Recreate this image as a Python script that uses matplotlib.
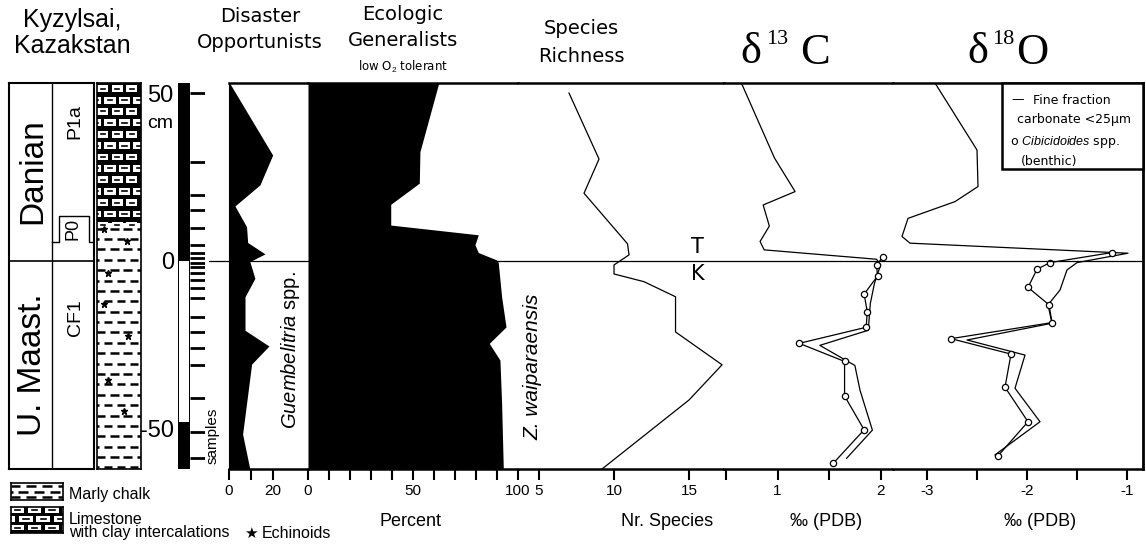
import matplotlib
matplotlib.use('agg')
import numpy as np
import matplotlib.pyplot as plt
from matplotlib.patches import Rectangle

W, H = 1146, 550
TOP_PX, BOT_PX = 83, 469

plt.rcParams['font.family'] = ['Liberation Sans', 'DejaVu Sans']
plt.rcParams['mathtext.fontset'] = 'custom'
plt.rcParams['mathtext.rm'] = 'Liberation Sans'
plt.rcParams['mathtext.it'] = 'Liberation Sans:italic'

# depth in cm relative to the K/T boundary
depth_top, depth_bottom = 53.1, -62.1

sample_depth = [50.1, 29.6, 19.7, 15.2, 9.9, 4.8, 2.4, 0.9, -0.6, -1.8, -3.6,
                -5.7, -8.1, -11.0, -16.7, -21.2, -26.0, -31.0, -40.9, -51.0, -58.8]

# Guembelitria spp. (%)
disaster_depth = [53.1, 52.5, 31.6, 22.7, 16.4, 10.2, 5.5, 2.1, -0.2, -5.2,
                  -10.7, -20.7, -25.4, -30.8, -51.7, -62.1]
disaster_pct = [0.5, 0.8, 19.9, 14.1, 2.7, 8.0, 8.5, 16.4, 9.5, 11.8,
                7.3, 7.3, 18.2, 10.3, 6.2, 9.5]

# ecologic generalists (%)
general_depth = [53.1, 52.5, 32.6, 23.2, 16.9, 10.7, 7.8, 4.8, 2.5, 0.3, -0.5,
                 -10.7, -19.7, -24.6, -29.6, -42.5, -62.1]
general_pct = [62.3, 62.0, 53.3, 53.0, 39.4, 39.4, 81.1, 79.5, 81.1, 89.8, 90.6,
               92.2, 94.3, 86.3, 91.4, 92.2, 93.0]

# species richness
species_depth = [50.1, 30.4, 20.2, 5.1, 1.8, -1.2, -3.9, -6.2, -10.7, -21.2,
                 -31.0, -41.5, -62.1]
species_n = [7.0, 9.0, 8.0, 10.9, 11.0, 10.0, 10.0, 12.0, 14.1, 14.1,
             17.2, 15.0, 9.2]

# stable isotopes, fine fraction carbonate
d13c_fine_depth = [53.0, 30.7, 20.7, 16.7, 10.4, 5.8, 3.3, 0.5, -1.2, -6.7,
                   -12.7, -20.7, -25.2, -31.2, -38.6, -50.5, -58.9]
d13c_fine = [0.65, 0.97, 1.17, 0.86, 0.92, 0.83, 0.87, 1.96, 2.00, 1.94,
             1.90, 1.88, 1.41, 1.75, 1.80, 1.92, 1.67]
d18o_fine_depth = [53.1, 33.1, 22.2, 17.7, 12.7, 7.3, 5.3, 2.3, -0.5, -2.7,
                   -8.7, -13.1, -18.6, -23.6, -28.1, -38.0, -48.0, -57.9]
d18o_fine = [-2.92, -2.50, -2.49, -2.72, -3.19, -3.25, -3.17, -0.99, -1.50, -1.60,
             -1.67, -1.79, -1.75, -2.60, -2.02, -2.12, -1.87, -2.32]

# stable isotopes, Cibicidoides spp.
cib_depth = [1.1, -1.2, -4.5, -9.9, -15.1, -19.8, -24.6, -30.0, -40.3, -50.4, -60.4]
d13c_cib = [2.02, 1.96, 1.97, 1.84, 1.87, 1.86, 1.21, 1.65, 1.65, 1.84, 1.54]
d18o_cib_depth = [2.5, -0.5, -2.5, -7.9, -13.1, -18.4, -23.2, -27.8, -37.7, -48.0, -58.2]
d18o_cib = [-1.15, -1.77, -1.90, -1.99, -1.78, -1.75, -2.76, -2.16, -2.22, -1.99, -2.29]

# stratigraphy
limestone_base = 11.2
p0_top, p0_base = 13.4, 5.7
scale_white = (0.0, -48.0)
echinoid_depth = [9.4, 6.0, -3.6, -13.0, -22.4, -35.4, -44.8]
echinoid_pos = [0.17, 0.68, 0.25, 0.17, 0.70, 0.25, 0.61]

fig = plt.figure(figsize=(W / 100, H / 100), dpi=100)


def px_axes(x0, x1, y0=TOP_PX, y1=BOT_PX):
    return fig.add_axes([x0 / W, 1 - y1 / H, (x1 - x0) / W, (y1 - y0) / H])


def ftext(x, y, s, **kw):
    kw.setdefault('ha', 'center')
    kw.setdefault('va', 'center')
    fig.text(x / W, 1 - y / H, s, **kw)


def panel(x0, x1, xlim, ticks, labels):
    ax = px_axes(x0, x1)
    ax.set_xlim(*xlim)
    ax.set_ylim(depth_bottom, depth_top)
    ax.set_yticks([])
    ax.set_xticks(ticks)
    ax.set_xticklabels(labels)
    ax.tick_params(axis='x', direction='out', length=8, width=1.5, pad=3,
                   labelsize=11)
    ax.spines['left'].set_visible(False)
    ax.spines['right'].set_visible(False)
    ax.spines['top'].set_linewidth(1.8)
    ax.spines['bottom'].set_linewidth(1.8)
    return ax


def limestone(ax, y_top, y_bot, row_h):
    ax.add_patch(Rectangle((0, y_bot), 1, y_top - y_bot, color='black', lw=0))
    for i, yt in enumerate(np.arange(y_top, y_bot, -row_h)):
        off = 0.0 if i % 2 == 0 else 0.165
        bh = row_h * 0.6
        yb = yt - row_h * 0.8
        for x in np.arange(-0.33 + off, 1.0, 0.33):
            ax.add_patch(Rectangle((x, yb), 0.26, bh, color='white', lw=0))
            ax.plot([x + 0.08, x + 0.18], [yb + bh / 2] * 2, color='black', lw=1.2)


def marly(ax, y_top, y_bot, row_h):
    for i, y in enumerate(np.arange(y_top - row_h / 2, y_bot, -row_h)):
        off = 0.0 if i % 2 == 0 else 0.15
        for x in np.arange(-0.3 + off, 1.0, 0.3):
            ax.plot([x, x + 0.19], [y, y], color='black', lw=1.8,
                    solid_capstyle='butt')


# ---- depth panels ----
ax_dis = panel(229, 308, (0, 36), [0, 10, 20], ['0', '', '20'])
ax_dis.spines['left'].set_visible(True)
ax_dis.spines['left'].set_linewidth(0.8)
ax_dis.fill_betweenx(disaster_depth, 0, disaster_pct, color='black', lw=0)

ax_gen = panel(308, 518, (0, 100), list(range(0, 101, 10)),
               ['0', '', '', '', '', '50', '', '', '', '', '100'])
ax_gen.fill_betweenx(general_depth, 0, general_pct, color='black', lw=0)

ax_spe = panel(518, 724, (3.6, 17.33), [5, 10, 15], ['5', '10', '15'])
ax_spe.plot(species_n, species_depth, color='black', lw=0.9)

ax_c = panel(724, 893, (0.48, 2.12), [0.5, 1, 1.5, 2], ['', '1', '', '2'])
ax_c.plot(d13c_fine, d13c_fine_depth, color='black', lw=0.9)
ax_c.plot(d13c_cib, cib_depth, color='black', lw=0.9, marker='o', ms=4.5,
          mfc='white', mec='black', mew=0.9)

ax_o = panel(893, 1143, (-3.34, -0.84), [-3, -2.5, -2, -1.5, -1],
             ['-3', '', '-2', '', '-1'])
ax_o.spines['right'].set_visible(True)
ax_o.spines['right'].set_linewidth(2)
ax_o.plot(d18o_fine, d18o_fine_depth, color='black', lw=0.9)
ax_o.plot(d18o_cib, d18o_cib_depth, color='black', lw=0.9, marker='o', ms=4.5,
          mfc='white', mec='black', mew=0.9)
ax_o.add_patch(Rectangle((0.435, 0.777), 0.565, 0.223, transform=ax_o.transAxes,
                         facecolor='white', edgecolor='black', lw=1.8,
                         clip_on=False, zorder=3))

# K/T boundary
ax_kt = px_axes(209, 1143)
ax_kt.set_xlim(0, 1)
ax_kt.set_ylim(depth_bottom, depth_top)
ax_kt.axis('off')
ax_kt.axhline(0, color='black', lw=0.9)

# ---- samples and depth scale ----
ax_s = px_axes(178, 205)
ax_s.set_xlim(0, 1)
ax_s.set_ylim(depth_bottom, depth_top)
for s in ax_s.spines.values():
    s.set_visible(False)
ax_s.set_xticks([])
ax_s.set_yticks([50, 0, -50])
ax_s.set_yticklabels(['50', '0', '-50'])
ax_s.tick_params(axis='y', length=0, pad=3, labelsize=17)
bar_w = 12 / 27
ax_s.add_patch(Rectangle((0, depth_bottom), bar_w, depth_top - depth_bottom,
                         color='black', lw=0))
ax_s.add_patch(Rectangle((0.04, scale_white[1]), bar_w - 0.08,
                         scale_white[0] - scale_white[1], color='white', lw=0))
ax_s.hlines(sample_depth, bar_w, 1, color='black', lw=2)

# ---- stratigraphic column ----
ax_st = px_axes(9.4, 94.2)
ax_st.set_xlim(0, 1)
ax_st.set_ylim(depth_bottom, depth_top)
ax_st.set_xticks([])
ax_st.set_yticks([])
for s in ax_st.spines.values():
    s.set_linewidth(1.5)
zone_x = 0.507
ax_st.axhline(0, color='black', lw=1.2)
ax_st.axvline(zone_x, color='black', lw=1.0)
ax_st.plot([zone_x, 0.58, 0.58, 0.939, 0.939, 1.0],
           [p0_base, p0_base, p0_top, p0_top, p0_base, p0_base],
           color='black', lw=1.0)
ax_st.text(0.278, 26.9, 'Danian', rotation=90, ha='center', va='center', fontsize=24)
ax_st.text(0.278, -31, 'U. Maast.', rotation=90, ha='center', va='center', fontsize=24)
ax_st.text(0.774, 41.5, 'P1a', rotation=90, ha='center', va='center', fontsize=14)
ax_st.text(0.75, 9.5, 'P0', rotation=90, ha='center', va='center', fontsize=13)
ax_st.text(0.78, -17, 'CF1', rotation=90, ha='center', va='center', fontsize=14)

ax_lit = px_axes(97, 141)
ax_lit.set_xlim(0, 1)
ax_lit.set_ylim(depth_bottom, depth_top)
ax_lit.set_xticks([])
ax_lit.set_yticks([])
for s in ax_lit.spines.values():
    s.set_linewidth(1.2)
limestone(ax_lit, depth_top, limestone_base, 3.4)
marly(ax_lit, limestone_base, depth_bottom, 3.1)
ax_lit.plot(echinoid_pos, echinoid_depth, ls='none', marker='*', ms=5, color='black')

# lithology key
ax_k1 = px_axes(10.5, 63, 483, 500)
ax_k2 = px_axes(10.5, 63, 507, 533)
for ax in (ax_k1, ax_k2):
    ax.set_xlim(0, 1)
    ax.set_ylim(0, 1)
    ax.set_xticks([])
    ax.set_yticks([])
    for s in ax.spines.values():
        s.set_linewidth(1.2)
marly(ax_k1, 1, 0, 0.34)
limestone(ax_k2, 1.05, 0, 0.34)

ftext(69, 494, 'Marly chalk', ha='left', fontsize=11.5)
ftext(69, 519, 'Limestone', ha='left', fontsize=11.5)
ftext(69, 533, 'with clay intercalations', ha='left', fontsize=11.5)
ftext(251, 533, '★', fontsize=11, family='DejaVu Sans')
ftext(262, 533, 'Echinoids', ha='left', fontsize=11.5)

# ---- headers ----
ftext(72, 20, 'Kyzylsai,', fontsize=18)
ftext(72, 46, 'Kazakstan', fontsize=18)
hdr = dict(fontsize=14, family='DejaVu Sans')
ftext(260, 16, 'Disaster', **hdr)
ftext(260, 42, 'Opportunists', **hdr)
ftext(403, 14, 'Ecologic', **hdr)
ftext(403, 40, 'Generalists', **hdr)
ftext(403, 67, r'low O$_2$ tolerant', fontsize=8.5, family='DejaVu Sans')
ftext(581, 28, 'Species', **hdr)
ftext(581, 56, 'Richness', **hdr)

serif = ['Liberation Serif', 'DejaVu Serif']
ftext(751, 52, 'δ', fontsize=32, family=serif)
ftext(777, 40, '13', fontsize=16, family=serif)
ftext(815, 53, 'C', fontsize=32, family=serif)
ftext(978, 52, 'δ', fontsize=32, family=serif)
ftext(1003, 40, '18', fontsize=16, family=serif)
ftext(1032, 53, 'O', fontsize=32, family=serif)

ftext(160, 123, 'cm', fontsize=14)
ftext(213, 436, 'samples', rotation=90, fontsize=11)
ftext(290, 350, r'$\mathit{Guembelitria}$ spp.', rotation=90, fontsize=14.5)
ftext(533, 367, 'Z. waiparaensis', rotation=90, fontsize=15, style='italic')
ftext(697, 247, 'T', fontsize=15, family='DejaVu Sans')
ftext(698, 274, 'K', fontsize=15, family='DejaVu Sans')

# isotope key
key = dict(ha='left', fontsize=9, family='DejaVu Sans')
ftext(1011, 100, '—', **key)
ftext(1033, 100, 'Fine fraction', **key)
ftext(1017, 120, 'carbonate <25µm', **key)
ftext(1010, 142, r'o $\mathit{Cibicidoides}$ spp.', **key)
ftext(1021, 162, '(benthic)', **key)

# x axis titles
ftext(410, 522, 'Percent', fontsize=13)
ftext(667, 522, 'Nr. Species', fontsize=13)
ftext(826, 522, '‰ (PDB)', fontsize=13)
ftext(1040, 522, '‰ (PDB)', fontsize=13)

fig.savefig('out.png', dpi=100)
